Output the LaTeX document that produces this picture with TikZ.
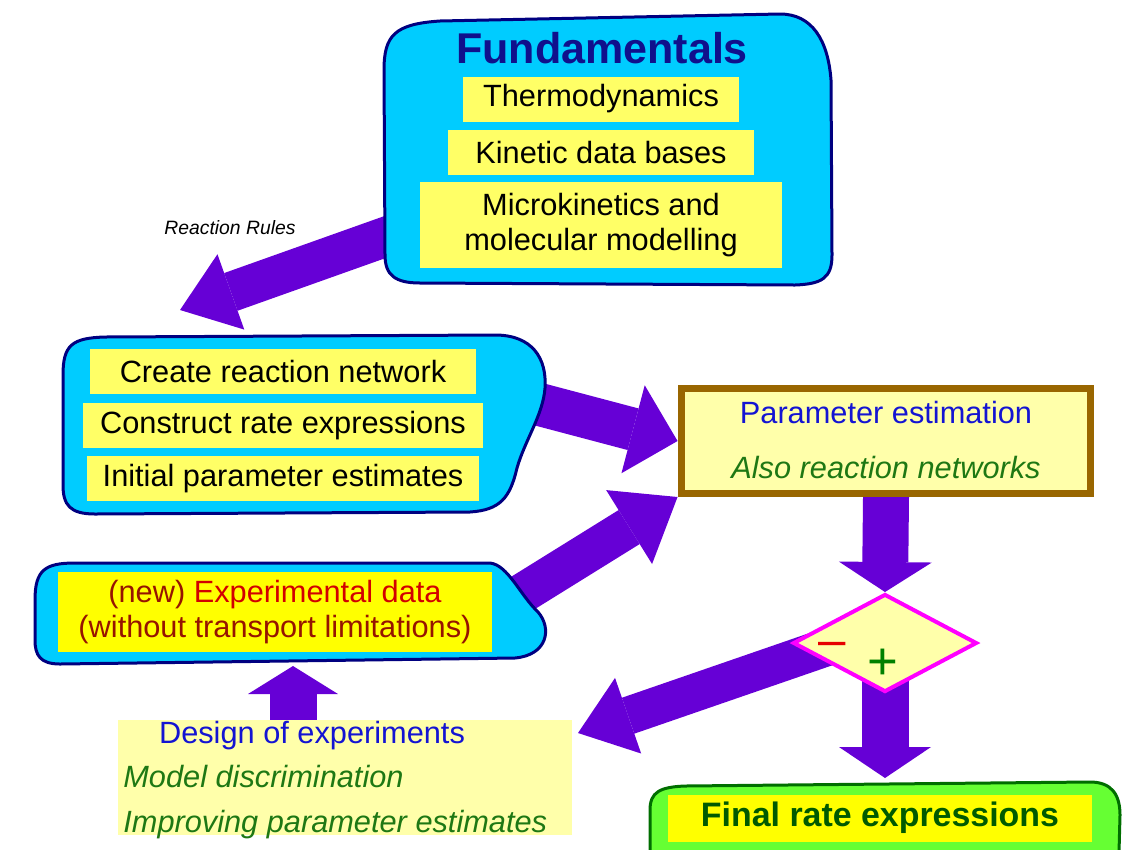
\documentclass[tikz,border=0pt]{standalone}
\usepackage{fontspec}
\setmainfont{Liberation Sans}
\usepackage{tikz}
\usetikzlibrary{positioning}
\usetikzlibrary{shapes.geometric}
\usetikzlibrary{arrows.meta}

\definecolor{cyanfill}{RGB}{0,204,255}
\definecolor{blobline}{RGB}{0,0,128}
\definecolor{yellowA}{RGB}{255,255,102}
\definecolor{yellowB}{RGB}{255,255,0}
\definecolor{paleyellow}{RGB}{255,255,170}
\definecolor{brownline}{RGB}{153,102,0}
\definecolor{arrowpurple}{RGB}{102,0,214}
\definecolor{magentaline}{RGB}{255,0,255}
\definecolor{greenfill}{RGB}{102,255,51}
\definecolor{greenline}{RGB}{0,110,0}
\definecolor{titleblue}{RGB}{16,16,140}
\definecolor{textblue}{RGB}{20,20,210}
\definecolor{textgreen}{RGB}{30,120,20}
\definecolor{expred}{RGB}{210,0,0}
\definecolor{newred}{RGB}{150,20,0}
\definecolor{minusred}{RGB}{230,0,0}
\definecolor{plusgreen}{RGB}{0,128,0}
\definecolor{finalgreen}{RGB}{0,90,0}

\pgfdeclarelayer{arrows}
\pgfdeclarelayer{blobs}
\pgfsetlayers{arrows,blobs,main}

\newcommand{\bodysize}{\fontsize{17.5}{20}\selectfont}

\begin{document}
\begin{tikzpicture}[x=0.02cm, y=-0.02cm,
						every node/.style={inner sep=0pt},
						ybox/.style={fill=yellowA, font=\bodysize, minimum height=0.9cm},
						blob/.style={fill=cyanfill, draw=blobline, line width=0.06cm},
						bigarrow/.style n args={3}{draw=arrowpurple, line width=#1,
							-{Triangle[width=#2, length=#3, line width=0pt]}}]
		\useasboundingbox (0,0) rectangle (1138,849);

		\node [font=\fontsize{24.5}{28}\selectfont\bfseries, text=titleblue] (fundtitle) at (602,48) {Fundamentals};
		\node [ybox, minimum width=5.54cm] (thermo) at (601,99) {Thermodynamics};
		\node [ybox, minimum width=6.14cm, below=0.16cm of thermo] (kinetic) {Kinetic data bases};
		\node [ybox, minimum width=7.26cm, minimum height=1.72cm, align=center,
				below=0.12cm of kinetic] (micro) {Microkinetics and\\molecular modelling};
		\node [font=\fontsize{11}{13}\selectfont\itshape] (rules) at (230,228) {Reaction Rules};

		\node [ybox, minimum width=7.74cm] (create) at (283,371) {Create reaction network};
		\node [ybox, minimum width=8.02cm, below=0.18cm of create] (construct) {Construct rate expressions};
		\node [ybox, minimum width=7.84cm, below=0.14cm of construct] (initial) {Initial parameter estimates};

		\node [ybox, fill=yellowB, minimum width=8.68cm, minimum height=1.6cm, align=center,
				font=\fontsize{17.5}{19.5}\selectfont, text=expred] (exp) at (275,612)
				{{\color{newred}(new)} Experimental data\\{\color{newred}(without transport limitations)}};

		\node [draw=brownline, line width=0.14cm, fill=paleyellow,
				minimum width=8.2cm, minimum height=2.1cm] (param) at (886,441) {};
		\node [font=\bodysize, text=textblue, anchor=base] (paramtitle) at (886,423) {Parameter estimation};
		\node [font=\bodysize\itshape, text=textgreen, anchor=base] (paramsub) at (886,478) {Also reaction networks};

		\node [diamond, draw=magentaline, line width=0.08cm, fill=paleyellow,
				minimum width=3.68cm, minimum height=1.96cm] (decide) at (885,643) {};
		\node [font=\fontsize{28}{30}\selectfont, text=minusred] (minus) at (832,649) {–};
		\node [font=\fontsize{30}{30}\selectfont, text=plusgreen] (plus) at (883,664) {+};

		\node [fill=paleyellow, minimum width=9.08cm, minimum height=2.3cm] (design) at (345,777) {};
		\node [font=\bodysize, text=textblue, anchor=base] (designtitle) at (312,743) {Design of experiments};
		\node [font=\bodysize\itshape, text=textgreen, anchor=base west] (modeldisc) at (123,787) {Model discrimination};
		\node [font=\bodysize\itshape, text=textgreen, anchor=base west] (improving) at (123,832) {Improving parameter estimates};

		\node [ybox, fill=yellowB, minimum width=8.48cm, minimum height=0.94cm,
				font=\fontsize{19.3}{22}\selectfont\bfseries, text=finalgreen] (final) at (880,818) {Final rate expressions};

		\coordinate (rulestip) at (180,310);
		\coordinate (createout) at (500,394);
		\coordinate (finaltip) at (885,778);
		\coordinate (minusout) at (830,646);
		\coordinate (designtip) at (578,733);
		\coordinate (uptail) at (293,720);
		\coordinate (uptip) at (293,666);

		\begin{pgfonlayer}{blobs}
			\draw [blob] (384,70) .. controls (384,35) and (395,24) .. (440,21)
				-- (780,14) .. controls (812,14) and (828,40) .. (831,80)
				-- (832,255) .. controls (832,278) and (822,284) .. (795,285)
				-- (420,283) .. controls (395,283) and (385,275) .. (385,255) -- cycle;
			\draw [blob] (63,375) .. controls (63,345) and (72,338) .. (105,337)
				-- (495,335) .. controls (532,335) and (547,358) .. (545,388)
				.. controls (543,415) and (525,440) .. (517,468)
				.. controls (510,498) and (500,510) .. (470,512)
				-- (95,514) .. controls (70,514) and (63,505) .. (63,485) -- cycle;
			\draw [blob] (35,600) .. controls (35,570) and (45,563) .. (75,563)
				-- (490,563) .. controls (508,565) and (520,595) .. (538,612)
				.. controls (552,628) and (548,655) .. (515,658)
				-- (60,664) .. controls (40,664) and (35,655) .. (35,640) -- cycle;
			\draw [fill=greenfill, draw=greenline, line width=0.06cm]
				(650,852) -- (650,810) .. controls (650,792) and (660,787) .. (685,786)
				-- (1090,782) .. controls (1112,782) and (1120,795) .. (1120,815)
				-- (1119,852) -- cycle;
		\end{pgfonlayer}

		\begin{pgfonlayer}{arrows}
			\path
				(micro.west) edge [bigarrow={0.8cm}{1.6cm}{1.08cm}] (rulestip)
				(createout) edge [bigarrow={0.86cm}{1.82cm}{0.92cm}] (param.west)
				(exp.east) edge [bigarrow={0.8cm}{1.74cm}{1.14cm}] (param.south west)
				(param.south) edge [bigarrow={0.92cm}{1.86cm}{0.6cm}] (decide.north)
				(decide.center) edge [bigarrow={0.94cm}{1.84cm}{0.62cm}] (finaltip)
				(minusout) edge [bigarrow={0.76cm}{1.6cm}{1.06cm}] (designtip)
				(uptail) edge [bigarrow={0.94cm}{1.8cm}{0.56cm}] (uptip);
		\end{pgfonlayer}
	\end{tikzpicture}
\end{document}
